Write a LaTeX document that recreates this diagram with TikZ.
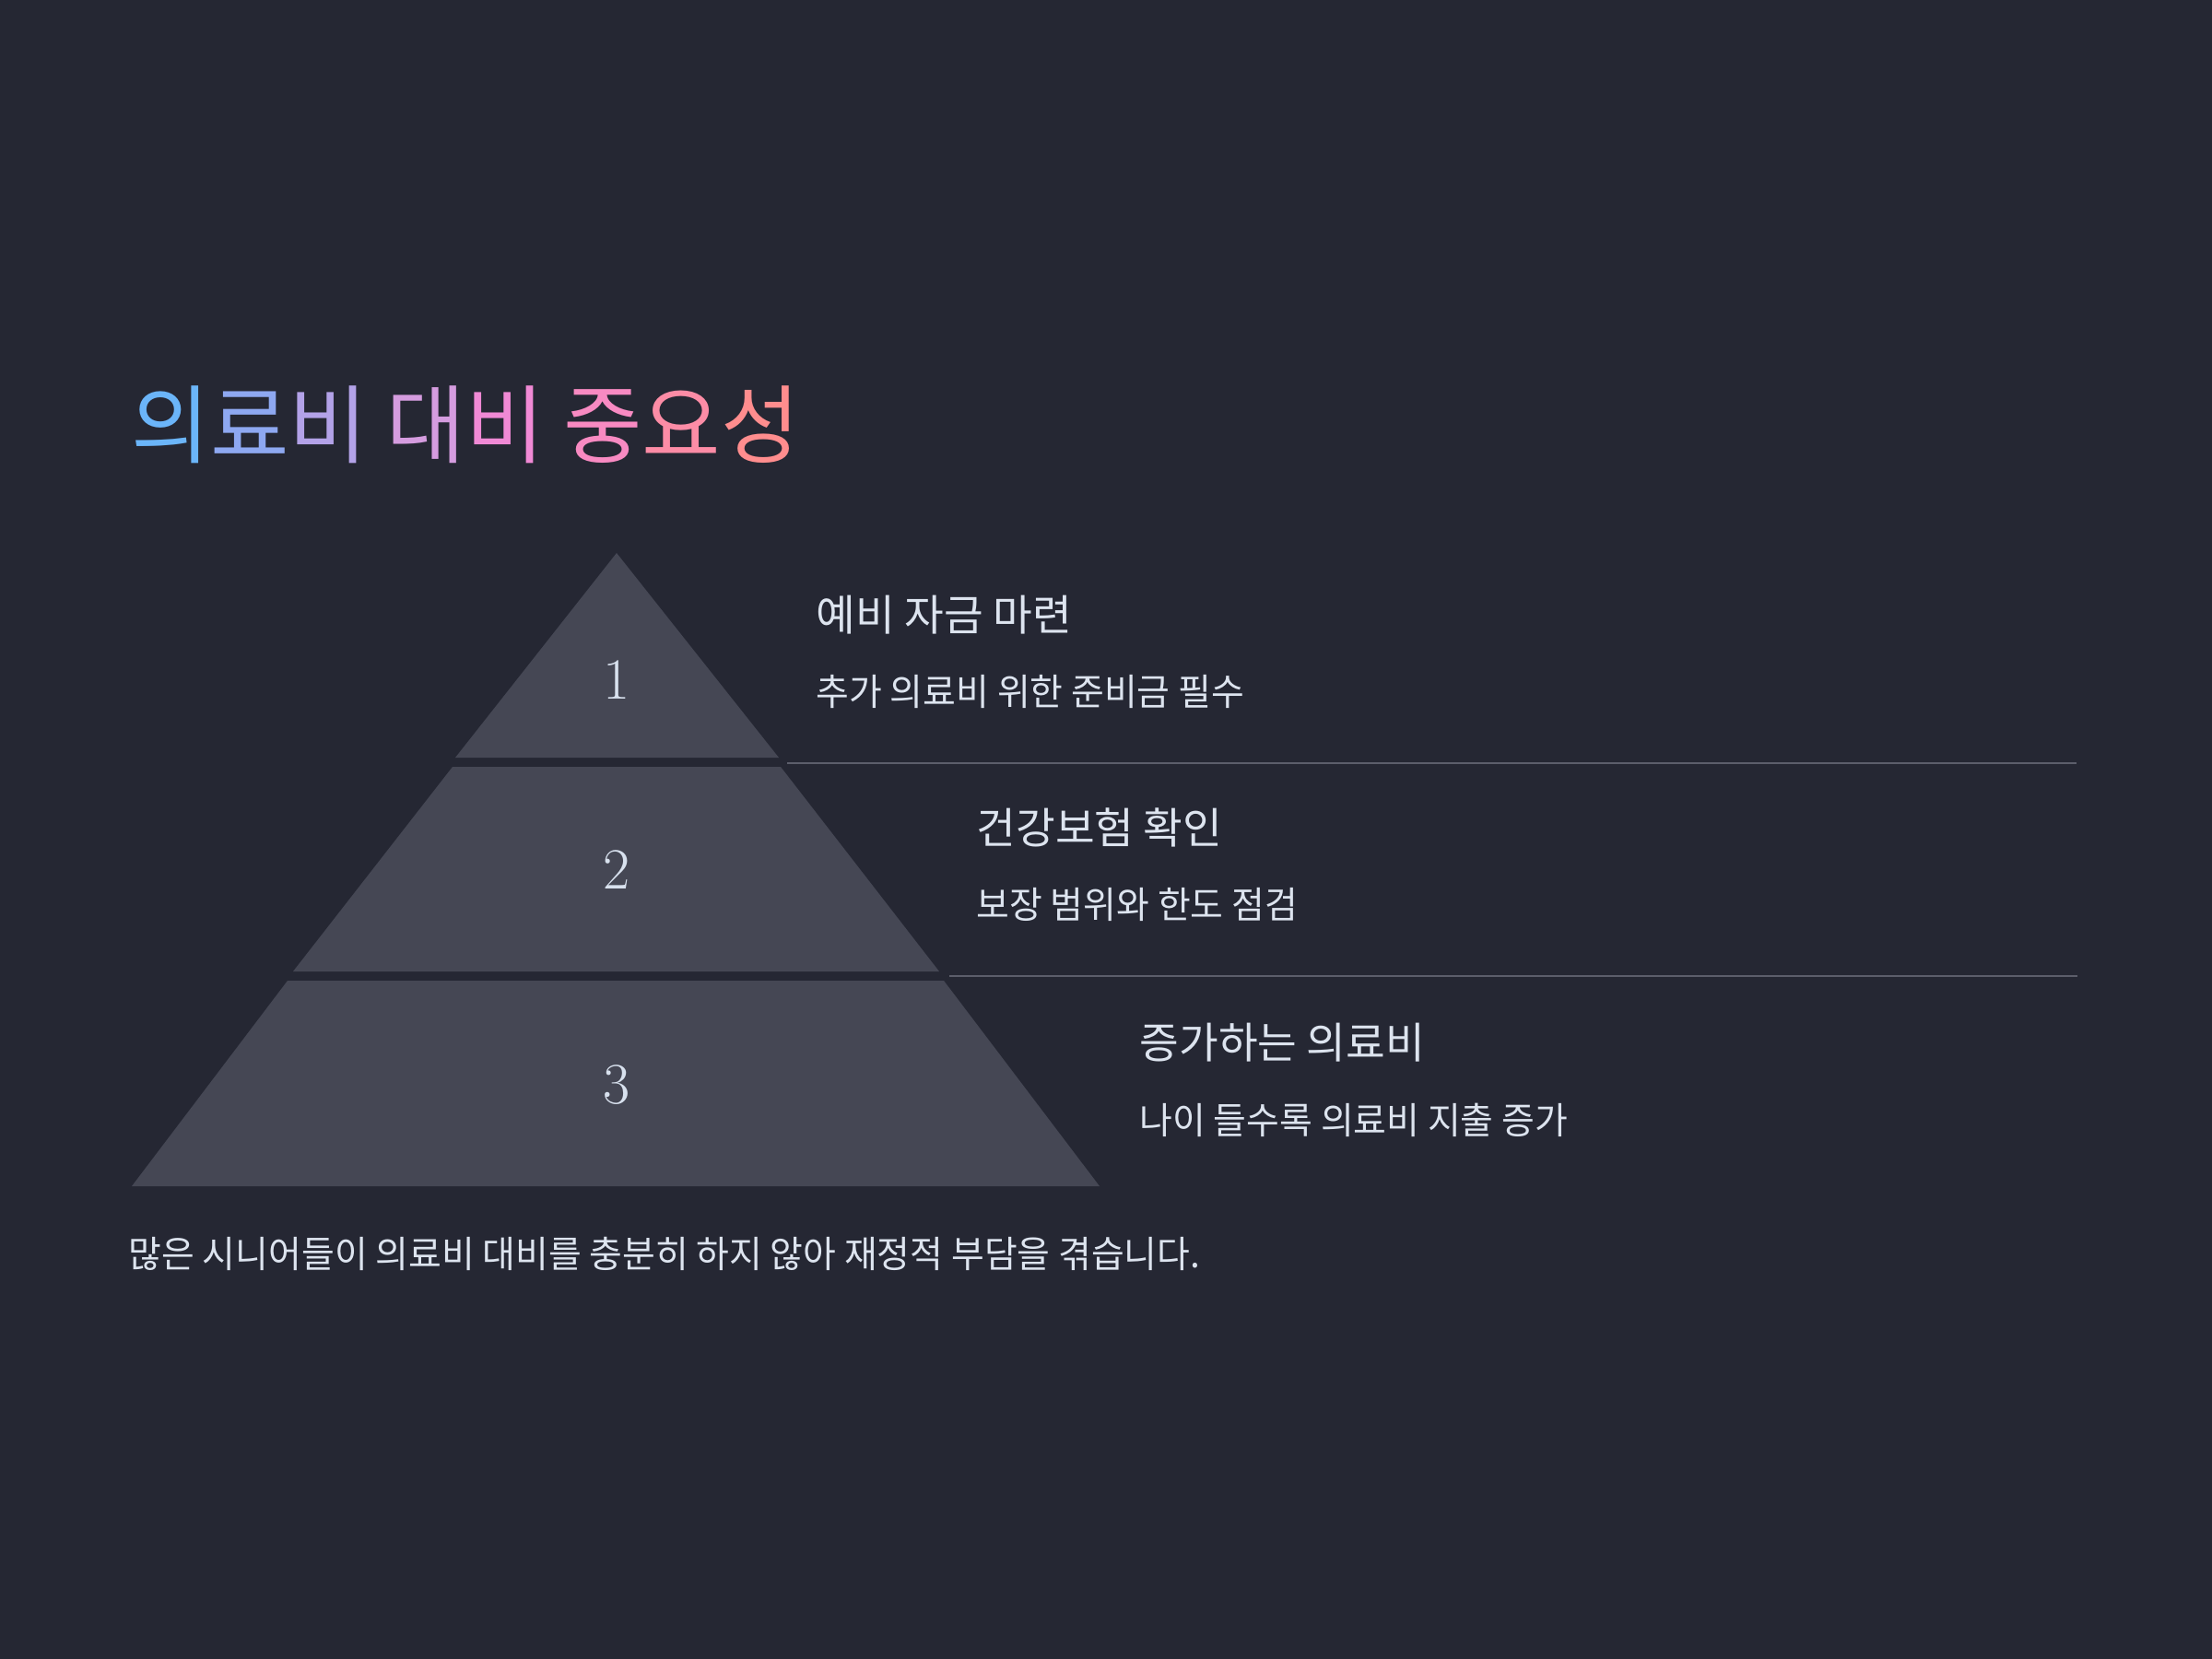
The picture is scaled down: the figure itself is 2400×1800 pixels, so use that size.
\documentclass[tikz,border=0pt]{standalone}
\usepackage{fontspec}
\newfontfamily\krtitle{Noto Sans CJK KR}
\newfontfamily\krhead{Noto Sans CJK KR}
\newfontfamily\kr[FakeStretch=0.97]{Noto Sans CJK KR}
\definecolor{bg}{HTML}{252733}
\definecolor{tiercol}{HTML}{454754}
\definecolor{rulecol}{HTML}{5C5E6B}
\definecolor{txtcol}{HTML}{DDE4EF}
\definecolor{numcol}{HTML}{D8E1EE}
\definecolor{ta}{HTML}{6BB5F9}
\definecolor{tb}{HTML}{8EA8F1}
\definecolor{tc}{HTML}{B3A2E8}
\definecolor{td}{HTML}{D59CDF}
\definecolor{te}{HTML}{F089D5}
\definecolor{tf}{HTML}{F88AC2}
\definecolor{tg}{HTML}{FC8CA6}
\definecolor{th}{HTML}{FF8D8E}
\begin{document}
\begin{tikzpicture}[x=0.01cm,y=-0.01cm,
  tier/.style={fill=tiercol,draw=none},
  num/.style={text=numcol,inner sep=0,font=\fontsize{18}{20}\selectfont},
  head/.style={anchor=west,inner sep=0,text=txtcol,font=\krhead\fontsize{13.2}{15}\selectfont},
  sub/.style={anchor=west,inner sep=0,text=txtcol,font=\kr\fontsize{11.4}{13}\selectfont},
  rule/.style={draw=rulecol,line width=0.6pt}]
\useasboundingbox (0,0) rectangle (2400,1800);
\fill[bg] (0,0) rectangle (2400,1800);

% title
\node[anchor=west,inner sep=0,font=\krtitle\fontsize{26.4}{30}\selectfont] (title) at (142,461)
  {\textcolor{ta}{의}\textcolor{tb}{료}\textcolor{tc}{비} \textcolor{td}{대}\textcolor{te}{비} \textcolor{tf}{중}\textcolor{tg}{요}\textcolor{th}{성}};

% pyramid tiers
\fill[tier] (669,600) -- (845,822) -- (494,822) -- cycle;
\fill[tier] (491,832) -- (847,832) -- (1019,1054) -- (318,1054) -- cycle;
\fill[tier] (312,1064) -- (1024,1064) -- (1193,1287) -- (143,1287) -- cycle;

\node[num] (n1) at (669,738) {1};
\node[num] (n2) at (669,944) {2};
\node[num] (n3) at (669,1177) {3};

% rules
\coordinate (r1a) at (854,828);
\coordinate (r1b) at (2253,828);
\coordinate (r2a) at (1030,1059);
\coordinate (r2b) at (2254,1059);
\draw[rule] (r1a) -- (r1b);
\draw[rule] (r2a) -- (r2b);

% texts
\node[head] (h1) at (885,667) {예비 자금 마련};
\node[sub]  (s1) at (885,750) {추가 의료비 위한 준비금 필수};
\node[head] (h2) at (1059,898) {건강보험 확인};
\node[sub]  (s2) at (1059,981) {보장 범위와 한도 점검};
\node[head] (h3) at (1236,1131) {증가하는 의료비};
\node[sub]  (s3) at (1236,1215) {나이 들수록 의료비 지출 증가};

\node[sub] (foot) at (139,1360) {많은 시니어들이 의료비 대비를 충분히 하지 않아 재정적 부담을 겪습니다.};
\end{tikzpicture}
\end{document}
